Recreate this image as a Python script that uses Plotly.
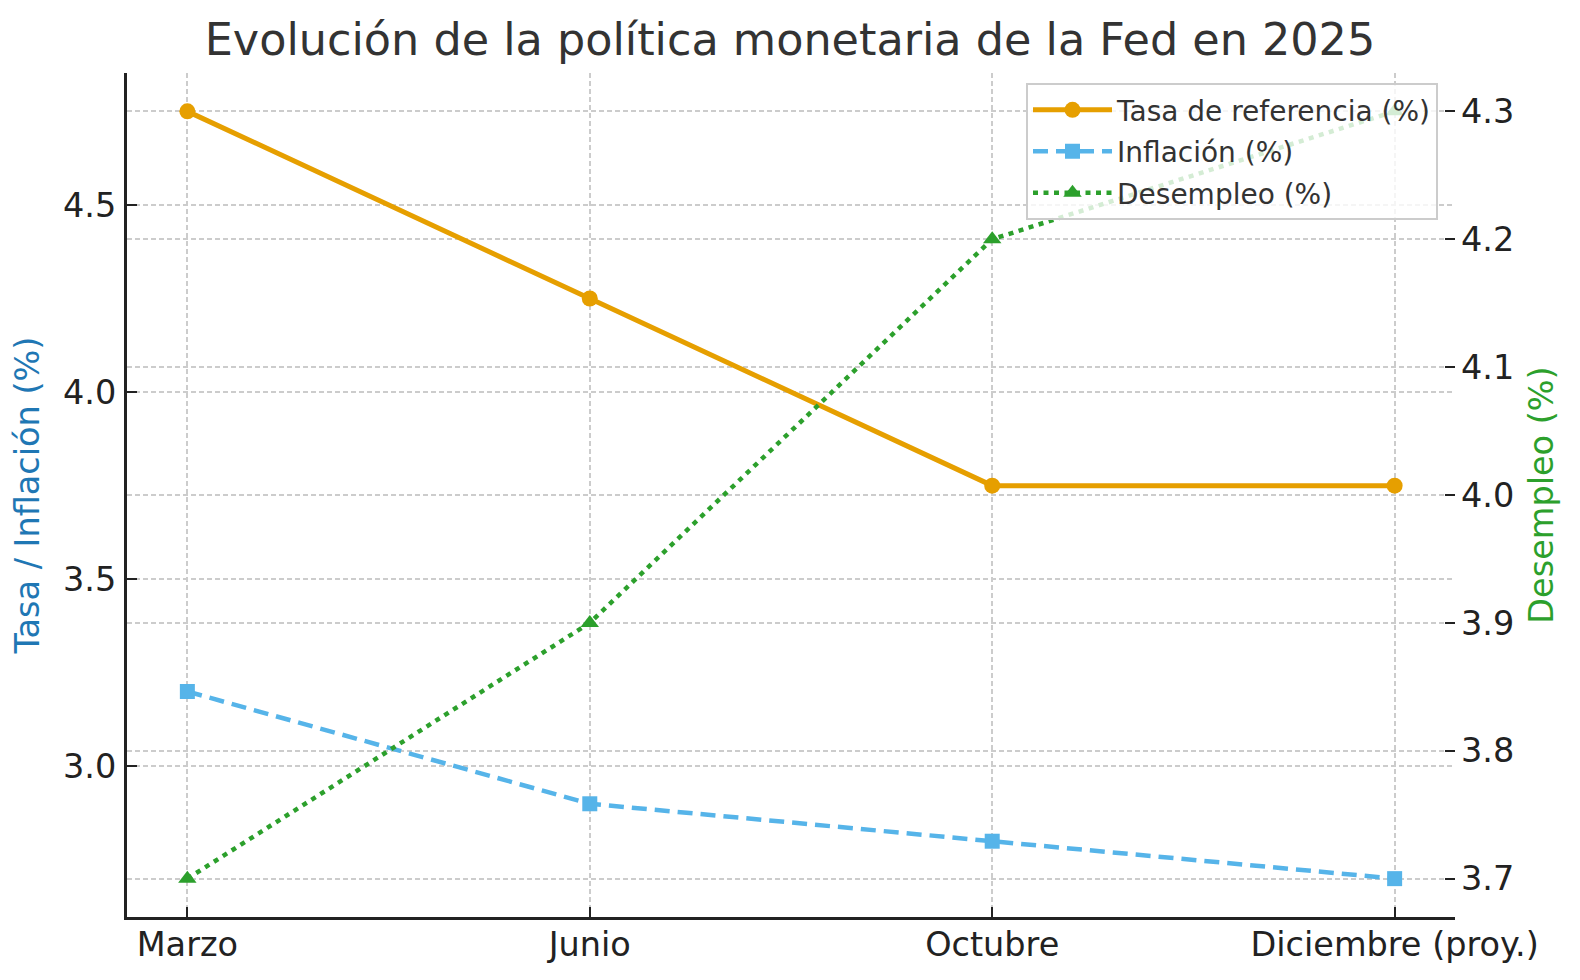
import plotly.graph_objects as go

meses = ["Marzo", "Junio", "Octubre", "Diciembre (proy.)"]
tasa = [4.75, 4.25, 3.75, 3.75]
inflacion = [3.2, 2.9, 2.8, 2.7]
desempleo = [3.7, 3.9, 4.2, 4.3]

FONT = "DejaVu Sans"
W, H = 1564, 964  # page body adds an 8px margin around the figure

fig = go.Figure()
fig.add_trace(go.Scatter(x=meses, y=tasa, name="Tasa de referencia (%)", mode="lines+markers",
                         legendgroup="a",
                         line=dict(color="#E69F00", width=5),
                         marker=dict(symbol="circle", size=16, color="#E69F00")))
fig.add_trace(go.Scatter(x=meses, y=inflacion, name="Inflación (%)", mode="lines+markers",
                         legendgroup="b",
                         line=dict(color="#56B4E9", width=4.5, dash="15px,8px"),
                         marker=dict(symbol="square", size=15, color="#56B4E9")))
fig.add_trace(go.Scatter(x=meses, y=desempleo, name="Desempleo (%)", mode="lines+markers",
                         yaxis="y2", legendgroup="c",
                         line=dict(color="#2ca02c", width=4.5, dash="5px,5.5px"),
                         marker=dict(symbol="triangle-up", size=16, color="#2ca02c")))

grid = dict(showgrid=True, gridcolor="#cccccc", griddash="5px,3px", gridwidth=1.5)
tickstyle = dict(ticks="inside", ticklen=10, tickwidth=2, tickcolor="#222222")
fig.update_layout(
    width=W, height=H,
    paper_bgcolor="white", plot_bgcolor="white",
    margin=dict(l=119, r=117, t=65, b=55),
    font=dict(family=FONT, color="#222222", size=33.5),
    title=dict(text="Evolución de la política monetaria de la Fed en 2025",
               x=0.5, xanchor="center", y=0.967, yanchor="middle",
               font=dict(size=44.5, color="#333333", family=FONT)),
    xaxis=dict(type="category", range=[-0.15, 3.15], **grid, automargin=False,
               showline=True, linecolor="#222222", linewidth=3, **tickstyle,
               ticklabelstandoff=-4,
               tickfont=dict(size=33.5, color="#222222")),
    yaxis=dict(range=[2.5975, 4.8525], tickvals=[3.0, 3.5, 4.0, 4.5],
               ticktext=["3.0", "3.5", "4.0", "4.5"], **grid, automargin=False,
               showline=True, linecolor="#222222", linewidth=3, **tickstyle,
               ticklabelstandoff=1, zeroline=False,
               title=dict(text="Tasa / Inflación (%)", font=dict(size=33.5, color="#1f77b4"), standoff=15),
               tickfont=dict(size=33.5, color="#222222")),
    yaxis2=dict(overlaying="y", side="right", range=[3.67, 4.33], automargin=False,
                tickvals=[3.7, 3.8, 3.9, 4.0, 4.1, 4.2, 4.3],
                ticktext=["3.7", "3.8", "3.9", "4.0", "4.1", "4.2", "4.3"], **grid,
                showline=False, **tickstyle, ticklabelstandoff=5,
                zeroline=False,
                title=dict(text="Desempleo (%)", font=dict(size=33.5, color="#2ca02c"), standoff=16),
                tickfont=dict(size=33.5, color="#222222")),
    legend=dict(x=0.9872, y=0.988, xanchor="right", yanchor="top",
                bgcolor="rgba(255,255,255,0.8)", bordercolor="#cccccc", borderwidth=2,
                font=dict(size=28, color="#333333"), itemwidth=79, tracegroupgap=2),
    showlegend=True,
)
fig.write_html("out.html")
